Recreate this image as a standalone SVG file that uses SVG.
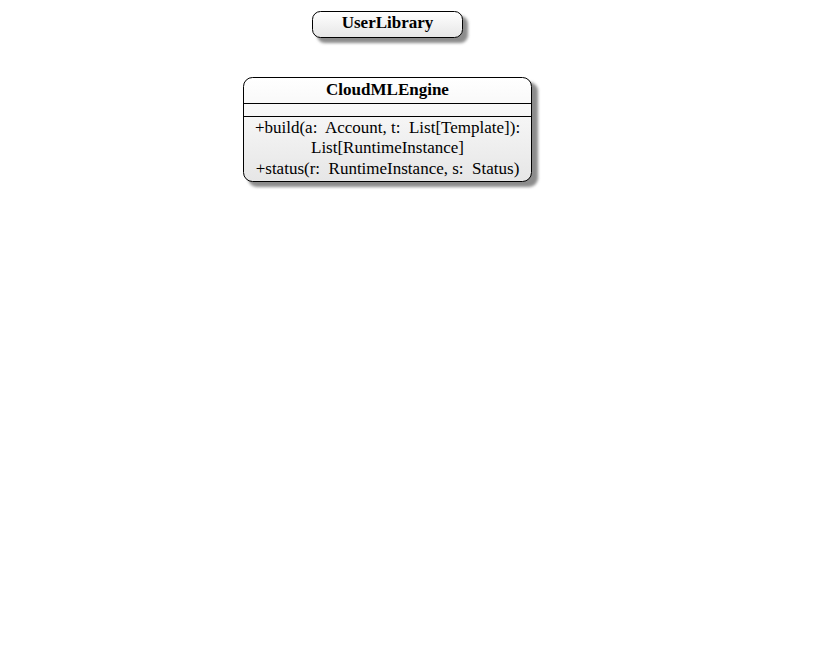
<svg xmlns="http://www.w3.org/2000/svg" width="835" height="667" viewBox="0 0 835 667">
<style>
.box{stroke:#000;stroke-width:1;fill:url(#g)}
.sh{fill:#8c8c8c;filter:url(#blur)}
text{font-family:"Liberation Serif","Times New Roman",serif;font-size:17px;fill:#000;text-anchor:middle;white-space:pre}
.t{font-weight:bold}
line{stroke:#000;stroke-width:1}
</style>
<defs>
<linearGradient id="g" x1="0" y1="0" x2="0" y2="1">
<stop offset="0" stop-color="#ffffff"/>
<stop offset="1" stop-color="#e6e6e6"/>
</linearGradient>
<filter id="blur" x="-10%" y="-20%" width="120%" height="140%"><feGaussianBlur stdDeviation="1.5"/></filter>
</defs>
<rect width="835" height="667" fill="#fff"/>
<g id="UserLibrary">
<rect class="sh" x="317" y="16" width="151" height="27" rx="8"/>
<rect class="box" x="312.5" y="11.5" width="150" height="26" rx="8"/>
<text class="t" x="387.5" y="28">UserLibrary</text>
</g>
<g id="CloudMLEngine">
<rect class="sh" x="248" y="82" width="290" height="105" rx="9"/>
<rect class="box" x="243.5" y="77.5" width="288" height="104" rx="9"/>
<text class="t" x="387.5" y="95">CloudMLEngine</text>
<line x1="243.5" y1="103.5" x2="531.5" y2="103.5"/>
<line x1="243.5" y1="116.5" x2="531.5" y2="116.5"/>
<text x="387.5" y="133" xml:space="preserve">+build(a:  Account, t:  List[Template]):</text>
<text x="387.5" y="153">List[RuntimeInstance]</text>
<text x="387.5" y="174" xml:space="preserve">+status(r:  RuntimeInstance, s:  Status)</text>
</g>
<g id="connectors"></g>
</svg>
